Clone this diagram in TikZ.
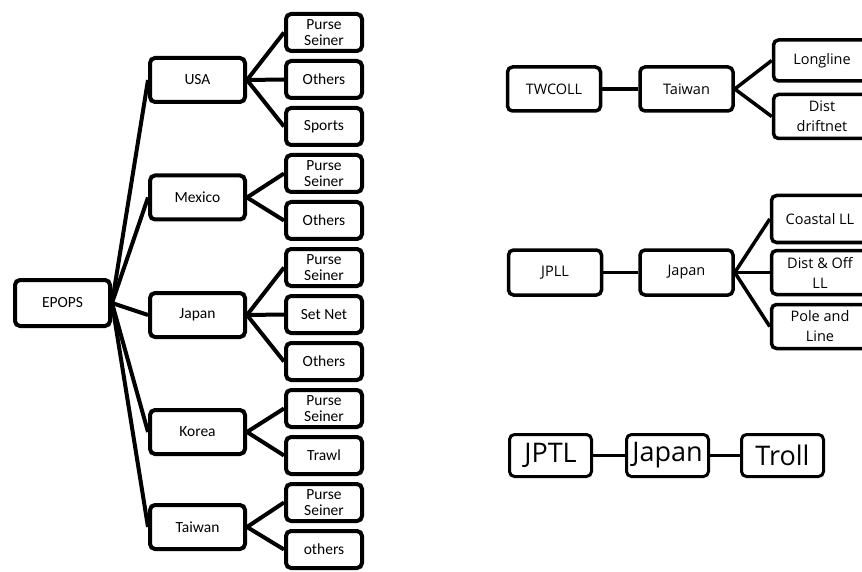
\documentclass[tikz,border=0pt]{standalone}
\usepackage{fontspec}
\setmainfont{Carlito}
\newfontfamily\sidefont{Open Sans}
\begin{document}
\begin{tikzpicture}[x=1pt,y=-1pt,
  box/.style={draw=black, line width=4pt, rounded corners=5pt, fill=white,
    align=center, inner sep=0pt, font=\fontsize{15.5}{16}\selectfont},
  rootbox/.style={box, minimum width=95pt, minimum height=46pt},
  midbox/.style={box, minimum width=95pt, minimum height=44pt},
  leafbox/.style={box, minimum width=76pt, minimum height=37pt},
  sidebox/.style={box, line width=3.5pt, minimum width=93pt, minimum height=44pt,
    font=\sidefont\fontsize{14.5}{20}\selectfont},
  endbox/.style={sidebox, minimum width=97pt},
  bigbox/.style={box, line width=3pt, minimum width=82pt, minimum height=42pt,
    font=\sidefont\fontsize{27}{30}\selectfont},
  link/.style={line width=4pt},
  sidelink/.style={line width=3.5pt},
  biglink/.style={line width=2.5pt}]
\useasboundingbox (0,0) rectangle (862,572);
\clip (0,0) rectangle (862,572);

% ---- EPOPS hierarchy ----
\node[rootbox] (epops) at (62.5,303) {EPOPS};

\node[midbox] (usa)    at (197.5,80)  {USA};
\node[midbox] (mexico) at (197.5,197.5) {Mexico};
\node[midbox] (japan)  at (197.5,315) {Japan};
\node[midbox] (korea)  at (197.5,432) {Korea};
\node[midbox] (taiwan) at (197.5,527) {Taiwan};

\node[leafbox] (usaps)   at (324,32.5)  {Purse\\Seiner};
\node[leafbox] (usaoth)  at (324,79.5)  {Others};
\node[leafbox] (usaspo)  at (324,126.5) {Sports};
\node[leafbox] (mexps)   at (324,173.5) {Purse\\Seiner};
\node[leafbox] (mexoth)  at (324,220.5) {Others};
\node[leafbox] (jpnps)   at (324,267.5) {Purse\\Seiner};
\node[leafbox] (jpnset)  at (324,314.5) {Set Net};
\node[leafbox] (jpnoth)  at (324,361.5) {Others};
\node[leafbox] (korps)   at (324,408.5) {Purse\\Seiner};
\node[leafbox] (kortrw)  at (324,455.5) {Trawl};
\node[leafbox] (twnps)   at (324,502.5) {Purse\\Seiner};
\node[leafbox] (twnoth)  at (324,549.5) {others};

\foreach \c in {usa,mexico,japan,korea,taiwan}
  \draw[link] (epops.east) -- (\c.west);
\foreach \l in {usaps,usaoth,usaspo} \draw[link] (usa.east) -- (\l.west);
\foreach \l in {mexps,mexoth} \draw[link] (mexico.east) -- (\l.west);
\foreach \l in {jpnps,jpnset,jpnoth} \draw[link] (japan.east) -- (\l.west);
\foreach \l in {korps,kortrw} \draw[link] (korea.east) -- (\l.west);
\foreach \l in {twnps,twnoth} \draw[link] (taiwan.east) -- (\l.west);

% ---- TWCOLL ----
\node[sidebox] (twcoll) at (554,89)   {TWCOLL};
\node[sidebox] (twtw)   at (686.5,89) {Taiwan};
\node[endbox, minimum height=41pt] (twll) at (822,60.5)  {Longline};
\node[endbox] (twdn)    at (822,116.5) {Dist\\driftnet};
\draw[sidelink] (twcoll.east) -- (twtw.west);
\draw[sidelink] (twtw.east) -- (twll.west);
\draw[sidelink] (twtw.east) -- (twdn.west);

% ---- JPLL ----
\node[sidebox, minimum height=45pt] (jpll) at (555,272.5)   {JPLL};
\node[sidebox, minimum height=45pt] (jpjp) at (686.5,272.5) {Japan};
\node[endbox, minimum height=47pt] (jpcl) at (820,219)   {Coastal LL};
\node[endbox] (jpdo) at (820,272.5) {Dist \& Off\\LL};
\node[endbox] (jppl) at (820,326.5) {Pole and\\Line};
\draw[sidelink] (jpll.east) -- (jpjp.west);
\foreach \l in {jpcl,jpdo,jppl} \draw[sidelink] (jpjp.east) -- (\l.west);

% ---- JPTL ----
\node[bigbox] (jptl)  at (550.5,455.5) {JPTL};
\node[bigbox] (jptj)  at (667.5,455.5) {Japan};
\node[bigbox] (jptr)  at (782.5,455.5) {Troll};
\draw[biglink] (jptl.east) -- (jptj.west);
\draw[biglink] (jptj.east) -- (jptr.west);
\end{tikzpicture}
\end{document}
